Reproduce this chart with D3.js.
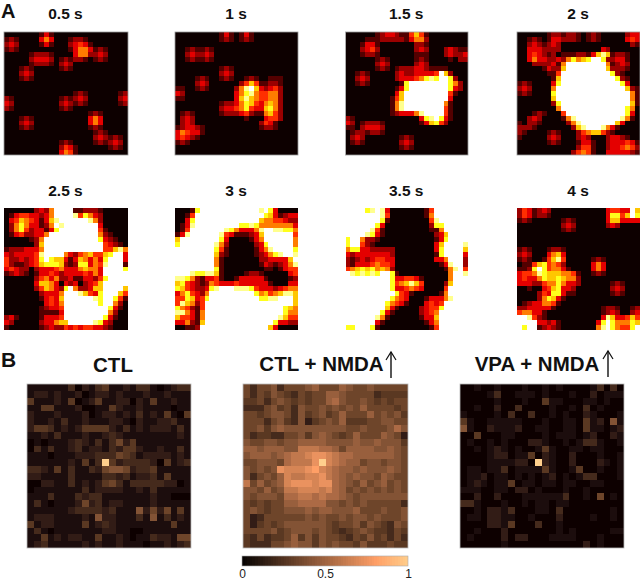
<!DOCTYPE html>
<html>
<head>
<meta charset="utf-8">
<script src="https://cdnjs.cloudflare.com/ajax/libs/d3/7.8.5/d3.min.js"></script>
<style>
  html, body { margin: 0; padding: 0; background: #fff; }
  svg { display: block; font-family: "Liberation Sans", Arial, sans-serif; }
</style>
</head>
<body>
<div class="chart"></div>
<script>
// heatmap rows, one digit per cell (0-9), spaces only for readability
var heat05 = ["00000 00131 00000 00000 00000","12100 00353 00012 21000 00000","23200 00131 00023 43100 00000","12100 00000 00013 55312 10000","00000 12221 00003 55223 20000","00000 23332 01212 21012 10000","00000 12221 02320 00000 00000","00012 10000 01210 00000 00000","00023 20000 00000 00000 00000","00012 10000 00000 00000 00000","00000 00000 00000 00000 00000","00000 00000 00000 00000 00000","00000 00000 00001 21000 00012","21000 00000 01212 32000 00023","32000 00000 02321 21000 00012","21000 00000 01210 00000 00000","00000 00000 00000 00121 00000","00012 10000 00000 00353 00000","00023 20000 00000 00353 00000","00012 10000 00000 00121 00000","00000 00000 00000 00012 10000","00000 00000 00000 00023 21210","00000 00000 01210 00012 12320","00000 00000 02431 00000 01210","00000 00000 03541 00000 00000"];
var heat10 = ["00000 00001 31013 10000 00000","00000 00001 21012 10000 00000","00000 00000 00000 00000 00000","00121 12100 00000 00000 00000","00232 23200 00000 00000 00000","00121 12100 00000 00000 00000","00000 00000 00000 00000 00000","00000 00001 21000 00000 00000","00000 00002 32000 00000 00000","00001 21001 21001 21001 11000","00002 32000 00024 64112 21000","11001 21000 00258 96323 42000","32000 00000 00357 85445 52000","11000 00000 00368 65445 52000","00000 00001 22357 64356 52000","00000 00002 33457 43367 52000","01210 00001 22234 21156 42000","02320 00000 00001 00034 42000","02320 00000 00000 00243 10000","12332 10000 00000 00122 10000","35433 10000 00000 00000 00000","34321 00000 00000 00000 00000","12100 00000 00000 00000 00000","00000 00000 00000 00000 00000","00000 00000 00000 00000 00000"];
var heat15 = ["00000 01233 21146 41000 00000","00001 11222 22135 52000 00000","00013 31000 00002 21000 00000","00023 42000 00002 32000 23211","00012 21000 00001 11000 23223","00000 01210 00001 21000 01022","00000 02320 00002 32000 00000","00000 01210 12223 32111 10000","00121 00000 23223 33349 62000","00232 00000 23334 57879 97200","00121 00000 01799 99999 97520","00000 00000 13799 99999 97320","00000 00000 36999 99999 94100","00000 00001 46999 99999 93000","00000 00001 58999 99999 51000","00000 00001 58999 99999 41000","00000 00001 23335 89999 41000","21000 00000 00000 37897 31000","32012 22100 00000 13674 20000","11023 33200 00000 00000 00000","01221 22100 00000 00000 00000","02320 00000 01210 00000 00000","01210 00000 02320 00000 00000","00000 00000 01210 00000 00000","00000 00000 00000 00000 00000"];
var heat20 = ["00000 01221 22101 21000 00233","00121 01332 22101 21000 00343","00232 12320 00000 00000 00021","00333 22220 00000 00320 00000","00343 21201 11221 36861 22100","00353 32232 57567 99722 33100","00022 22315 99999 99951 23200","00000 13226 99999 99962 22100","00000 01149 99999 99997 21000","00000 00169 99999 99999 72100","12100 00379 99999 99999 97300","23200 00599 99999 99999 99621","12100 00799 99999 99999 99951","00000 00699 99999 99999 99951","00000 00279 99999 99999 99961","00000 00059 99999 99999 99750","00012 10004 99999 99999 99730","00232 00001 58999 99999 98510","10221 00000 25899 99999 63000","22210 00000 02689 99853 10000","21000 01210 00245 66421 00000","10000 02320 00232 00023 32100","00000 01210 00133 10023 33431","00000 00000 00244 10023 34542","00000 00000 02454 10033 33321"];
var heat25 = ["00000 02325 99991 12221 00000","01344 33235 99998 47532 00000","03465 43136 89999 99852 00000","02575 33125 98999 99993 00000","02574 23313 79999 99994 10000","01342 23359 99999 99995 21000","00000 12599 99999 99997 32100","00000 02699 99999 99999 43210","12223 33599 99999 99999 44685","32333 34899 99532 45644 67993","42232 34797 66313 65353 79993","42112 34677 76212 77354 89991","34322 02333 45333 56553 99997","12321 01334 32333 34353 99999","00000 02453 52231 13324 79999","00000 03665 30323 02346 99999","00000 02465 32795 22366 99996","00000 00233 35999 86437 99964","00000 00134 36999 99987 99741","00000 00034 35999 99997 99520","00000 00123 34999 99999 97310","00000 00111 13999 99999 95200","23100 00133 34999 99999 73100","32000 00233 56699 99987 32000","10000 00123 22434 34433 21000"];
var heat30 = ["00017 99999 99999 99897 30000","00149 99999 99999 99976 31233","00379 99999 99999 99655 44322","01389 99999 99977 87555 55553","01499 99999 87533 35899 88775","13899 99998 43111 23699 99994","69999 99997 30000 13599 99995","79999 99985 20000 02379 99995","99999 99974 10000 01358 99997","99999 99962 10000 01235 78998","99999 99951 00000 00223 33369","99999 99951 00000 00132 12358","99999 99971 00000 00011 01344","99987 78861 00001 22100 00034","88752 13341 00133 33310 00012","67432 12543 33433 33331 00033","76432 23789 99888 74333 23455","35743 25999 99999 97564 56886","44763 47999 99999 99778 89996","48652 49999 99999 99999 99996","75421 49999 99999 99999 99765","88531 59999 99999 99999 99755","64431 59999 99999 99999 98644","33521 69999 99999 99999 73322","00112 99999 99999 99996 30000"];
var heat35 = ["99997 89830 00000 01499 99999","99999 99840 00000 01599 99999","99999 99710 00000 00489 99999","99999 97300 00000 00277 99999","99999 84100 00000 00115 99999","99998 73100 00000 00023 69999","79952 21000 00000 00013 79999","79942 10000 00000 00036 99998","57733 22222 00000 00037 99996","32333 33332 00000 00017 99993","21232 34433 00000 00033 59992","21333 45443 00000 00001 38992","45676 75652 00000 00000 15894","98787 87997 10000 00000 05998","99999 99997 33443 10000 05999","99999 99997 45686 40000 26999","99999 99997 33454 30000 49999","99999 99999 74310 00001 59999","99999 99997 54300 01333 58999","99999 99975 43100 03434 99999","99999 99963 10000 23447 99999","99999 99731 00000 23459 99999","99999 98510 00000 13369 99999","99999 93100 00000 01359 99999","77999 71000 00000 00149 99999"];
var heat40 = ["24312 32000 00000 00034 43396","24312 21000 00000 00037 74697","12100 00001 21000 00036 63333","00000 00002 32000 00023 20000","00000 00001 21000 00000 00000","00000 00000 00000 00000 00000","00000 00000 00000 00000 00000","00000 00000 00000 00000 00000","12100 01221 00000 00000 00000","23200 03563 00000 00000 00000","12100 14684 00000 12100 00000","01146 74542 00000 35300 00000","11279 74553 10000 35300 00000","34458 76665 54100 12100 00000","34335 76676 55200 00000 00000","33322 45575 33200 00001 21000","00100 34673 32000 00002 32000","00002 43773 11000 00001 21000","00002 57631 00000 00000 00000","01233 55410 00000 00000 00000","22333 33100 00000 00122 10012","45533 10000 00000 00123 20023","99842 10000 00000 00386 33464","99993 32310 00000 03797 55576","97991 23210 00000 05897 54479"];

// correlation maps, one hex digit per cell (0-f)
var corrCtl = ["111111 302134 112133 101233","122121 120122 121112 112111","411121 401241 122021 411211","114411 120011 421121 111011","211121 112012 212131 214104","211213 112111 221021 122311","244312 124444 213121 222131","112131 112112 321111 111121","010111 232131 352411 111111","031311 231221 324421 121131","111011 122233 354312 222121","111111 21413f 423333 204123","332141 311325 665233 411111","221111 311113 323122 314111","002211 312124 531333 332201","011111 113122 221121 311111","111311 132331 111111 211000","131011 125231 221111 211111","111111 233332 311162 525141","122211 112162 211131 613121","412211 114123 211111 111411","131011 111112 211001 111111","114121 221141 121011 322155","123111 112121 121110 112123"];
var corrNmda = ["535563 555675 557655 655555","535465 435455 776555 534444","445356 545455 786556 545455","333564 536556 565657 555545","554566 536456 457555 756564","555356 436245 657444 556655","556467 666666 666556 555686","534433 556467 654575 557652","655665 667777 666676 676664","776777 669998 875777 766765","677767 899abb a98877 777765","556665 8999bf a98775 665665","65656b aaabca 987767 666765","635657 a99aab 987676 657655","957567 abbbab b87657 567565","665756 99aaa9 a87565 656565","656665 889989 887656 666666","545455 778888 665656 555553","565455 666767 766675 556556","523555 555656 556566 565556","524545 666666 545564 654365","555564 566656 543456 544354","435344 574646 554354 645353","433355 676646 565546 444544"];
var corrVpa = ["001001 000100 101000 013030","000013 001110 100010 020111","000001 000100 411000 110100","001002 003000 010010 301000","100001 030030 010100 210001","410011 111000 100110 412061","610021 112001 100110 411012","004000 110000 101110 120021","010010 100022 100101 331001","001012 101001 410011 011000","000012 201140 210020 001001","000011 11220f 210020 002101","011011 301111 410014 001001","011201 101010 120101 330001","012101 140110 110110 011000","111001 102201 000100 100000","002002 000111 111300 105010","331000 100101 101100 000000","001022 130001 103000 000010","011022 110010 002000 010010","000022 140003 001000 000000","001000 200000 001010 000011","010000 202200 011110 001000","000000 100000 000000 201000"];

var timeLabels = ["0.5 s", "1 s", "1.5 s", "2 s", "2.5 s", "3 s", "3.5 s", "4 s"];
var corrLabels = ["CTL", "CTL + NMDA", "VPA + NMDA"];
var barTicks = [0, 0.5, 1];

var width = 640, height = 580;

var svg = d3.select(".chart").append("svg")
    .attr("width", width)
    .attr("height", height);

var defs = svg.append("defs");
function blur(id, s) {
    defs.append("filter").attr("id", id)
        .attr("x", 0).attr("y", 0).attr("width", 1).attr("height", 1)
        .append("feGaussianBlur").attr("stdDeviation", s).attr("edgeMode", "duplicate");
}
blur("softA", 0.75);
blur("softB", 0.45);

// matlab style hot and copper maps
var hot = d3.scaleLinear().domain([0, 0.375, 0.75, 1]).range(["#0a0000", "#ff0000", "#ffff00", "#ffffff"]);
var copper = d3.scaleLinear().domain([0, 0.8, 1]).range(["#070402", "#ff9f66", "#ffcf8c"]);

function parseRows(rows, radix, top) {
    var cells = [];
    rows.forEach(function(row, r) {
        row.replace(/ /g, "").split("").forEach(function(ch, c) {
            cells.push({r: r, c: c, v: parseInt(ch, radix) / top});
        });
    });
    return cells;
}

function heatmap(rows, radix, top, colour, soft, x0, x1, y0, y1, border) {
    var x = d3.scaleBand().domain(d3.range(rows[0].replace(/ /g, "").length)).range([x0, x1]);
    var y = d3.scaleBand().domain(d3.range(rows.length)).range([y0, y1]);
    var g = svg.append("g").attr("filter", "url(#" + soft + ")");
    g.selectAll("rect")
        .data(parseRows(rows, radix, top))
        .enter().append("rect")
        .attr("x", function(d) { return x(d.c); })
        .attr("y", function(d) { return y(d.r); })
        .attr("width", x.bandwidth())
        .attr("height", y.bandwidth())
        .attr("shape-rendering", "crispEdges")
        .attr("fill", function(d) { return colour(d.v); });
    if (border) {
        svg.append("rect").attr("x", x0).attr("y", y0)
            .attr("width", x1 - x0).attr("height", y1 - y0)
            .attr("fill", "none").attr("stroke", border).attr("stroke-width", 0.8);
    }
}

function title(txt, x, y, size, anchor) {
    svg.append("text").attr("x", x).attr("y", y)
        .attr("text-anchor", anchor || "middle")
        .attr("font-size", size).attr("font-weight", "bold")
        .attr("fill", "#111")
        .text(txt);
}

// panel A
var heats = [heat05, heat10, heat15, heat20, heat25, heat30, heat35, heat40];
var colsA = [[4, 128], [175, 298], [345.5, 468], [517, 640]];
heats.forEach(function(rows, i) {
    var col = colsA[i % 4];
    var row2 = i >= 4;
    heatmap(rows, 10, 9, hot, "softA", col[0], col[1], row2 ? 208 : 32, row2 ? 330 : 155, row2 ? null : "#999");
    title(timeLabels[i], (col[0] + col[1]) / 2 - 0.5, row2 ? 196 : 19, 15.5);
});
title("A", 1, 18, 20, "start");

// panel B
var corrs = [corrCtl, corrNmda, corrVpa];
var colsB = [[27, 191], [243, 408], [460, 624]];
corrs.forEach(function(rows, i) {
    heatmap(rows, 16, 15, copper, "softB", colsB[i][0], colsB[i][1], 384, 548, "#bbb");
});
title("B", 1, 367, 21, "start");
title(corrLabels[0], 113, 372, 20.5);
title(corrLabels[1], 321.5, 371, 20.5);
title(corrLabels[2], 537, 371, 20.5);

// up arrows next to the NMDA titles
[[391, 352, 378], [608, 351, 377]].forEach(function(a) {
    svg.append("path")
        .attr("d", d3.line()([[a[0] - 5, a[1] + 8], [a[0], a[1]], [a[0] + 5, a[1] + 8]]))
        .attr("fill", "none").attr("stroke", "#111").attr("stroke-width", 1.2);
    svg.append("path")
        .attr("d", d3.line()([[a[0], a[1]], [a[0], a[2]]]))
        .attr("stroke", "#111").attr("stroke-width", 1.4);
});

// colour bar
var barX = d3.scaleLinear().domain([0, 1]).range([242, 408]);
var barSteps = d3.range(0, 1, 1 / 64);
svg.append("g").selectAll("rect")
    .data(barSteps)
    .enter().append("rect")
    .attr("x", function(d) { return barX(d); })
    .attr("y", 556)
    .attr("width", barX(1 / 64) - barX(0))
    .attr("height", 10)
    .attr("shape-rendering", "crispEdges")
    .attr("fill", function(d) { return copper(d); });
svg.append("rect").attr("x", 242).attr("y", 556).attr("width", 166).attr("height", 10)
    .attr("fill", "none").attr("stroke", "#aaa").attr("stroke-width", 0.6);

var barAxis = svg.append("g")
    .attr("transform", "translate(0,566)")
    .call(d3.axisBottom(barX).tickValues(barTicks).tickSize(0).tickPadding(3).tickFormat(d3.format("")));
barAxis.select(".domain").remove();
barAxis.selectAll("text")
    .attr("font-size", 12)
    .attr("font-family", '"Liberation Sans", Arial, sans-serif')
    .attr("fill", "#222");
</script>
</body>
</html>
